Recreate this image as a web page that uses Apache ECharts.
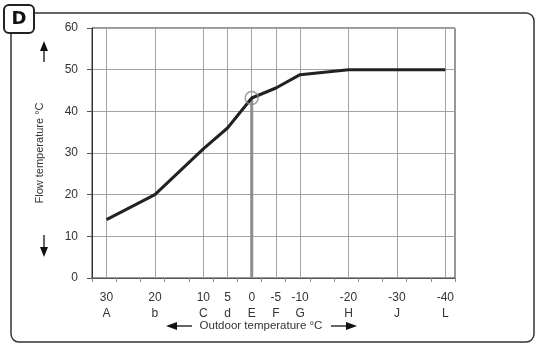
<!DOCTYPE html>
<html>
<head>
<meta charset="utf-8">
<script src="https://cdn.jsdelivr.net/npm/echarts@6/dist/echarts.min.js"></script>
<style>
html,body{margin:0;padding:0;background:#fff;}
#chart{width:537px;height:344px;}
</style>
</head>
<body>
<div id="chart"></div>
<script>
// Heating curve data
const outdoorTemps = [30, 20, 10, 5, 0, -5, -10, -20, -40];
const flowTemps = [14, 20, 31, 36, 43.2, 45.6, 48.8, 50, 50];
const xLabelValues = [30, 20, 10, 5, 0, -5, -10, -20, -30, -40];
const xLabelLetters = ['A', 'b', 'C', 'd', 'E', 'F', 'G', 'H', 'J', 'L'];
const xMinorTicks = [33, 28, 23, 18, 13, 8, 3, -2, -7, -12, -17, -22, -27, -32, -37, -42];
const designPoint = [0, 43.2];
const xMin = -42, xMax = 33;
const yMin = 0, yMax = 60, yStep = 10;

const FONT = 'Liberation Sans';
const chart = echarts.init(document.getElementById('chart'), null, {renderer: 'canvas'});

chart.setOption({
  animation: false,
  backgroundColor: '#fff',
  grid: {left: 92, right: 82, top: 28, bottom: 66, show: true, borderColor: '#333', borderWidth: 1, backgroundColor: 'transparent'},
  xAxis: [{
    type: 'value', min: xMin, max: xMax, inverse: true, position: 'bottom',
    axisLine: {show: true, onZero: false, lineStyle: {color: '#555', width: 1}},
    axisTick: {show: false, customValues: xLabelValues},
    axisLabel: {
      customValues: xLabelValues, margin: 12, color: '#333', fontFamily: FONT, fontSize: 12, lineHeight: 16,
      formatter: function (v) {
        const i = xLabelValues.indexOf(v);
        return String(v) + '\n' + (i >= 0 ? xLabelLetters[i] : '');
      }
    },
    splitLine: {show: true, lineStyle: {color: '#a3a3a3', width: 1}}
  }, {
    type: 'value', min: xMin, max: xMax, inverse: true, position: 'bottom',
    axisLine: {show: false, onZero: false},
    axisTick: {show: true, customValues: xMinorTicks, length: 4, lineStyle: {color: '#888'}},
    axisLabel: {show: false},
    splitLine: {show: false}
  }],
  yAxis: {
    type: 'value', min: yMin, max: yMax, interval: yStep,
    name: 'Flow temperature °C', nameLocation: 'middle', nameGap: 47,
    nameTextStyle: {color: '#333', fontFamily: FONT, fontSize: 11},
    axisLine: {show: true, onZero: false, lineStyle: {color: '#333'}},
    axisTick: {show: true, length: 5, lineStyle: {color: '#555'}},
    axisLabel: {margin: 14, color: '#333', fontFamily: FONT, fontSize: 12},
    splitLine: {show: true, lineStyle: {color: '#a3a3a3', width: 1}}
  },
  series: [{
    type: 'line', data: [[designPoint[0], yMin], designPoint], symbol: 'none', z: 2,
    lineStyle: {color: '#8e8e8e', width: 3}
  }, {
    type: 'line', data: outdoorTemps.map((t, i) => [t, flowTemps[i]]), symbol: 'none', z: 3,
    lineStyle: {color: '#222', width: 3}
  }, {
    type: 'scatter', data: [designPoint], symbol: 'circle', symbolSize: 13, z: 4,
    itemStyle: {color: 'rgba(255,255,255,0)', borderColor: '#8a8a8a', borderWidth: 1.5}
  }],
  graphic: [
    {type: 'rect', shape: {x: 11, y: 13, width: 523, height: 329, r: 8}, style: {fill: 'none', stroke: '#333', lineWidth: 1.5}, z: 1},
    {type: 'rect', shape: {x: 4, y: 5, width: 30, height: 28, r: 5}, style: {fill: '#fff', stroke: '#222', lineWidth: 2}, z: 2},
    {type: 'text', x: 19, y: 19, style: {text: 'D', fill: '#111', font: 'bold 18px "DejaVu Sans"', align: 'center', verticalAlign: 'middle'}, z: 3},
    // up arrow
    {type: 'line', shape: {x1: 44, y1: 62, x2: 44, y2: 48}, style: {stroke: '#111', lineWidth: 1.3}},
    {type: 'polygon', shape: {points: [[44, 41], [40, 51], [48, 51]]}, style: {fill: '#111'}},
    // down arrow
    {type: 'line', shape: {x1: 44, y1: 235, x2: 44, y2: 249}, style: {stroke: '#111', lineWidth: 1.3}},
    {type: 'polygon', shape: {points: [[44, 257], [40, 247], [48, 247]]}, style: {fill: '#111'}},
    // x axis title with arrows
    {type: 'text', x: 261, y: 326, style: {text: 'Outdoor temperature °C', fill: '#333', font: '11.5px "Liberation Sans"', align: 'center', verticalAlign: 'middle'}},
    {type: 'line', shape: {x1: 174, y1: 326, x2: 192, y2: 326}, style: {stroke: '#111', lineWidth: 1.3}},
    {type: 'polygon', shape: {points: [[166, 326], [177, 322], [177, 330]]}, style: {fill: '#111'}},
    {type: 'line', shape: {x1: 331, y1: 326, x2: 348, y2: 326}, style: {stroke: '#111', lineWidth: 1.3}},
    {type: 'polygon', shape: {points: [[357, 326], [346, 322], [346, 330]]}, style: {fill: '#111'}}
  ]
});
</script>
</body>
</html>
